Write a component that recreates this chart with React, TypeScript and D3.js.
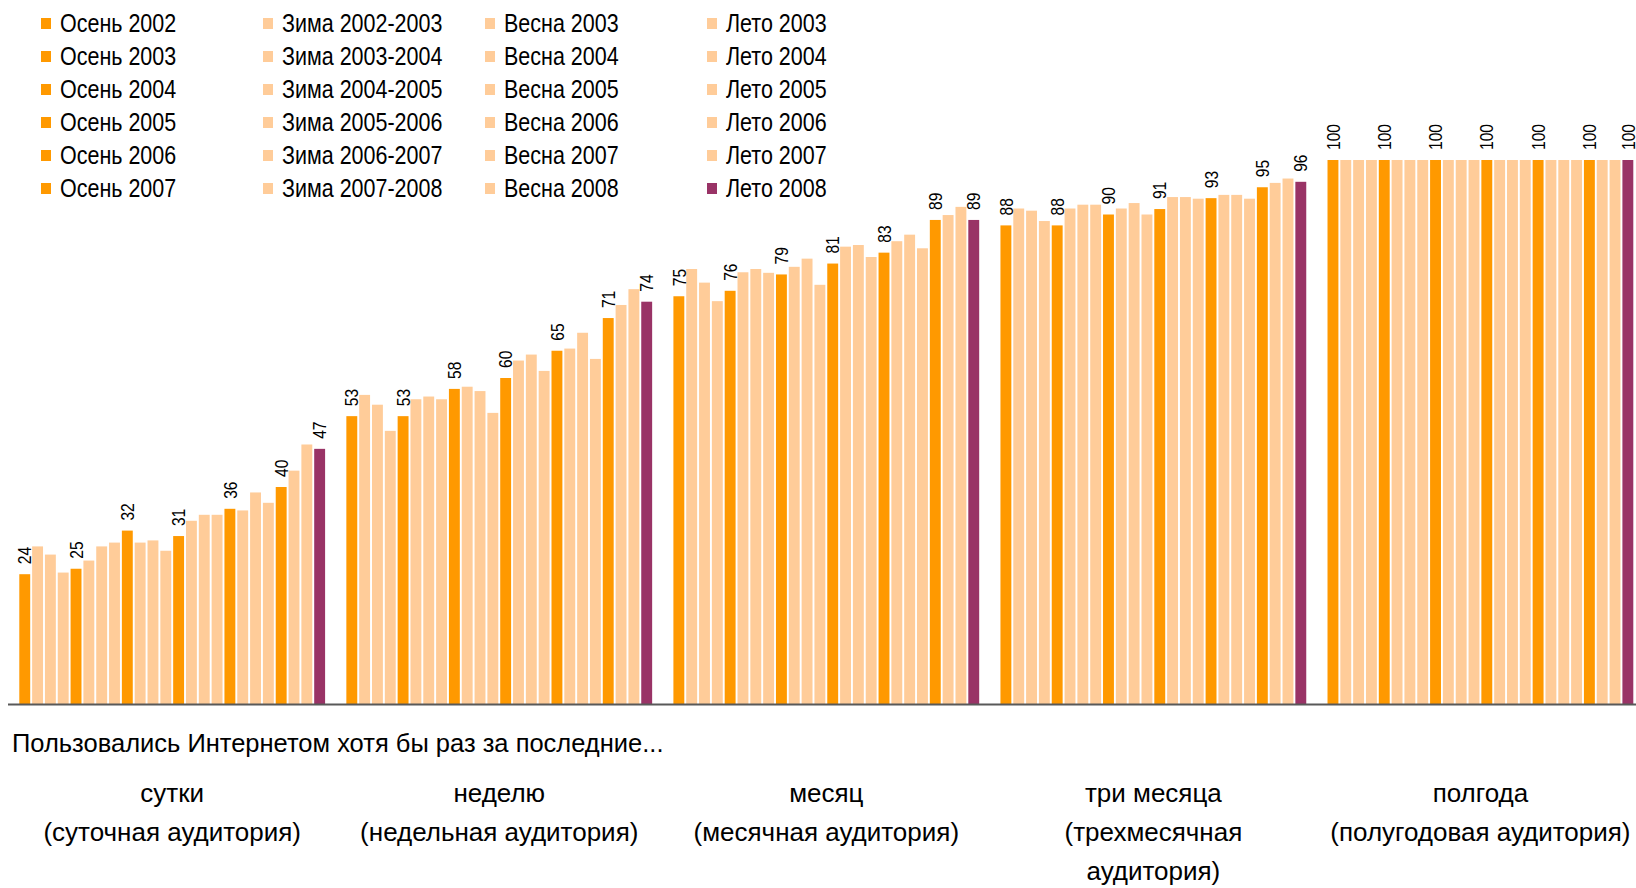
import { useEffect, useMemo } from "react";
import * as d3 from "d3";

const WIDTH = 1636;
const HEIGHT = 888;
// no narrow face is installed, so Liberation Sans is squeezed horizontally
const FONT = '"Liberation Sans", Arial, sans-serif';
const LEGEND_SQUEEZE = 0.86;
const LABEL_SQUEEZE = 0.82;
const CAPTION_SQUEEZE = 1.04;
const TITLE_SQUEEZE = 1.02;

// survey waves, in chronological order (legend is read row by row)
const periods = [
  "Осень 2002", "Зима 2002-2003", "Весна 2003", "Лето 2003",
  "Осень 2003", "Зима 2003-2004", "Весна 2004", "Лето 2004",
  "Осень 2004", "Зима 2004-2005", "Весна 2005", "Лето 2005",
  "Осень 2005", "Зима 2005-2006", "Весна 2006", "Лето 2006",
  "Осень 2006", "Зима 2006-2007", "Весна 2007", "Лето 2007",
  "Осень 2007", "Зима 2007-2008", "Весна 2008", "Лето 2008",
];

const groups = ["day", "week", "month", "quarter", "halfYear"];

const groupLabels = [
  ["сутки", "(суточная аудитория)"],
  ["неделю", "(недельная аудитория)"],
  ["месяц", "(месячная аудитория)"],
  ["три месяца", "(трехмесячная", "аудитория)"],
  ["полгода", "(полугодовая аудитория)"],
];

const dayValues = [24, 29.1, 27.6, 24.3, 25, 26.5, 29.1, 29.8, 32, 29.8, 30.2, 28.3, 31, 33.8, 34.9, 34.9, 36, 35.7, 39.0, 37.1, 40, 43.0, 47.8, 47];
const weekValues = [53, 56.9, 55.1, 50.3, 53, 56.1, 56.6, 56.1, 58, 58.4, 57.6, 53.6, 60, 63.2, 64.3, 61.3, 65, 65.4, 68.3, 63.5, 71, 73.4, 76.3, 74];
const monthValues = [75, 80.0, 77.5, 74.1, 76, 79.4, 80.0, 79.3, 79, 80.4, 81.9, 77.1, 81, 84.1, 84.4, 82.2, 83, 85.1, 86.3, 83.8, 89, 89.9, 91.4, 89];
const quarterValues = [88, 91.1, 90.7, 88.8, 88, 91.1, 91.8, 91.8, 90, 91.1, 92.1, 90, 91, 93.2, 93.2, 92.9, 93, 93.6, 93.6, 92.9, 95, 95.8, 96.6, 96];
const halfYearValues = [100, 100, 100, 100, 100, 100, 100, 100, 100, 100, 100, 100, 100, 100, 100, 100, 100, 100, 100, 100, 100, 100, 100, 100];

const seriesValues = [dayValues, weekValues, monthValues, quarterValues, halfYearValues];

const axisTitle = "Пользовались Интернетом хотя бы раз за последние...";

const colorFor = (period: string) => {
  if (period === "Лето 2008") return "#993366";
  if (period.startsWith("Осень")) return "#FF9900";
  return "#FFCC99";
};

// only autumn waves and the latest wave carry a value label
const hasLabel = (period: string) => period.startsWith("Осень") || period === "Лето 2008";

const NarrowText = ({ x, y, size, squeeze, anchor = "start", rotate = 0, children }: any) => (
  <text
    transform={`translate(${x},${y}) rotate(${rotate}) scale(${squeeze},1)`}
    dy="0.35em"
    fontSize={size}
    textAnchor={anchor}
    fill="#000"
  >
    {children}
  </text>
);

const Legend = () => {
  const col = d3.scaleLinear().domain([0, 3]).range([41, 707]);
  const row = d3.scaleLinear().domain([0, 5]).range([23, 188]);
  return (
    <g>
      {periods.map((p, i) => {
        const x = col(i % 4);
        const y = row(Math.floor(i / 4));
        return (
          <g key={p}>
            <rect x={x} y={y - 5} width={10} height={11} fill={colorFor(p)} />
            <NarrowText x={x + 19} y={y} size={25} squeeze={LEGEND_SQUEEZE}>
              {p}
            </NarrowText>
          </g>
        );
      })}
    </g>
  );
};

export default function App() {
  useEffect(() => {
    document.body.style.margin = "0";
  }, []);

  const xGroup = useMemo(
    () => d3.scaleBand<string>().domain(groups).range([19.3, 1633.3]).paddingInner(0.065),
    []
  );
  const xBar = useMemo(
    () => d3.scaleBand<string>().domain(periods).range([0, xGroup.bandwidth()]).paddingInner(0.15),
    [xGroup]
  );
  const y = useMemo(() => d3.scaleLinear().domain([0, 100]).range([705, 160]), []);

  return (
    <svg width={WIDTH} height={HEIGHT} style={{ display: "block", fontFamily: FONT }}>
      <rect width={WIDTH} height={HEIGHT} fill="#fff" />
      <Legend />

      {groups.map((g, gi) => (
        <g key={g} transform={`translate(${xGroup(g)},0)`}>
          {periods.map((p, i) => {
            const v = seriesValues[gi][i];
            return (
              <rect
                key={p}
                x={xBar(p)}
                y={y(v)}
                width={xBar.bandwidth()}
                height={y(0) - y(v)}
                fill={colorFor(p)}
              />
            );
          })}
          {periods.map((p, i) => {
            if (!hasLabel(p)) return null;
            const v = seriesValues[gi][i];
            const cx = (xBar(p) ?? 0) + xBar.bandwidth() / 2;
            return (
              <NarrowText key={p} x={cx} y={y(v) - 10} size={19} squeeze={LABEL_SQUEEZE} rotate={-90}>
                {Math.round(v)}
              </NarrowText>
            );
          })}
        </g>
      ))}

      <line x1={8} x2={WIDTH} y1={704.5} y2={704.5} stroke="#595959" strokeWidth={2} />

      <NarrowText x={12} y={743} size={25} squeeze={TITLE_SQUEEZE}>
        {axisTitle}
      </NarrowText>

      {groups.map((g, gi) => {
        const cx = (xGroup(g) ?? 0) + xGroup.bandwidth() / 2;
        return (
          <g key={g}>
            {groupLabels[gi].map((line, li) => (
              <NarrowText key={li} x={cx} y={793 + li * 39} size={25} squeeze={CAPTION_SQUEEZE} anchor="middle">
                {line}
              </NarrowText>
            ))}
          </g>
        );
      })}
    </svg>
  );
}
